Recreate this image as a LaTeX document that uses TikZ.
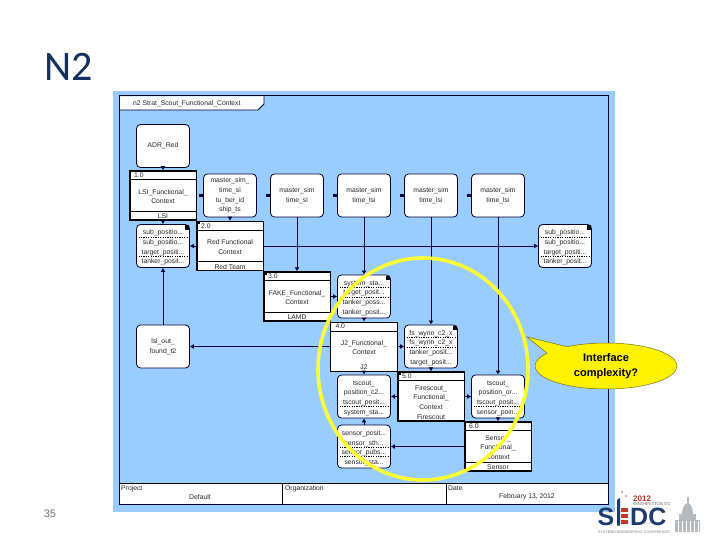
\documentclass[tikz,border=0pt]{standalone}
\usepackage{fontspec}
\setmainfont{Liberation Sans}
\newfontfamily\calib{Carlito}
\usetikzlibrary{arrows.meta,calc}
\definecolor{panel}{HTML}{99CCFF}
\definecolor{ink}{HTML}{000033}
\definecolor{titleblue}{HTML}{14305E}
\definecolor{ring}{HTML}{FFFF33}
\definecolor{logoblue}{HTML}{1F3A6E}
\definecolor{logored}{HTML}{C0392B}
\definecolor{domegray}{HTML}{B4BABE}
\newcommand{\rt}{\rule{0pt}{8pt}}
\tikzset{
  lab/.style={font=\fontsize{6.8}{9.6}\selectfont,align=center,inner sep=0pt,text=black!85},
  rbox/.style={lab,draw=ink,fill=white,rounded corners=4pt,line width=.8pt,minimum width=53pt,minimum height=43pt},
  fbox/.style={lab,draw=black,fill=white,line width=.8pt,minimum width=66.5pt,minimum height=49pt},
  thick box/.style={fbox,line width=1.5pt},
  small/.style={lab,anchor=west},
  conn/.style={draw=ink,line width=.8pt,-{Latex[length=4pt,width=5pt]}},
  rowsep/.style={draw=black,line width=.6pt,dash pattern=on 1.2pt off 1.2pt},
  plainline/.style={draw=black,line width=.8pt},
  corner/.style={fill=black,inner sep=0pt,minimum size=4.5pt},
  stub/.style={fill=ink,inner sep=0pt,minimum size=3.5pt},
}
% name, style, x, y, number, body, footer, footer-line yes(1)/no(0)
\newcommand{\funcnode}[8]{%
  \node[#2] (#1) at (#3,#4) {};
  \node[lab,anchor=west] (#1n) at ([xshift=5pt,yshift=-5pt]#1.north west) {#5};
  \node[lab] (#1b) at ([yshift=-1pt]#1.center) {#6};
  \node[lab] (#1f) at ([yshift=4.5pt]#1.south) {#7};
  \draw[plainline] ([yshift=-9.5pt]#1.north west) -- ([yshift=-9.5pt]#1.north east);
  \ifnum#8=1 \draw[plainline] ([yshift=9.5pt]#1.south west) -- ([yshift=9.5pt]#1.south east);\fi
}
\newcommand{\rowlines}[3]{%
  \draw[rowsep] ([yshift=#2pt]#1.west) -- ([yshift=#2pt]#1.east);
  \draw[rowsep] ([yshift=#3pt]#1.west) -- ([yshift=#3pt]#1.east);
}
\begin{document}
\begin{tikzpicture}[x=1pt,y=-1pt]
\useasboundingbox (0,0) rectangle (720,540);
\fill[white] (0,0) rectangle (720,540);
\node[font=\calib\fontsize{42}{42}\selectfont,text=titleblue,inner sep=0pt] (title) at (69,67) {N2};
\node[font=\fontsize{11}{12}\selectfont,text=black!55,inner sep=0pt] (page) at (50,514) {35};

% panel and frame
\fill[panel] (113,91) rectangle (615,512);
\fill[white] (119.5,96.5) -- (264,96.5) -- (264,104) -- (258,110) -- (119.5,110) -- cycle;
\draw[draw=ink,line width=.8pt] (264,96.5) -- (264,104) -- (258,110) -- (119.5,110);
\node[lab,anchor=west] (head) at (133,103.5) {n2 Strat\_Scout\_Functional\_Context};

% title block
\fill[white] (119.5,483) rectangle (607.5,503.5);
\draw[plainline] (119,483) -- (608,483) (282,483) -- (282,504) (446,483) -- (446,504);
\draw[draw=ink,line width=1pt] (119,96) rectangle (608,504);
\node[small] (pl) at (121,488.5) {Project};
\node[lab] (pv) at (200,497) {Default};
\node[small] (ol) at (285,488.5) {Organization};
\node[small] (dl) at (448,488.5) {Date};
\node[lab] (dv) at (527,497) {February 13, 2012};

% rounded data boxes
\node[rbox] (adr) at (163,146) {ADR\_Red};
\node[rbox] (m1) at (230,195.5) {master\_sim\_\\time\_si\\tu\_ber\_id\\ship\_ts};
\node[rbox] (m2) at (297,195.5) {master\_sim\\time\_si};
\node[rbox] (m3) at (364,195.5) {master\_sim\\time\_lsi};
\node[rbox] (m4) at (431,195.5) {master\_sim\\time\_lsi};
\node[rbox] (m5) at (498,195.5) {master\_sim\\time\_lsi};
\node[rbox] (subl) at (163,246) {\rt sub\_positio...\\sub\_positio...\\target\_positi...\\tanker\_posit...};
\node[rbox] (subr) at (565,246) {\rt sub\_positio...\\sub\_positio...\\target\_positi...\\tanker\_posit...};
\node[rbox] (sys) at (364,296.5) {\rt system\_sta...\\target\_posit...\\tanker\_poss...\\tanker\_posit...};
\node[rbox] (lsi) at (163,346.5) {lsi\_out\_\\found\_t2};
\node[rbox] (fsw) at (431,346.5) {\rt fs\_wynn\_c2\_x\\fs\_wynn\_c2\_x\\tanker\_posit...\\target\_posit...};
\node[rbox] (tsl) at (364,396.5) {\rt tscout\_\\position\_c2...\\tscout\_posit...\\system\_sta...};
\node[rbox] (tsr) at (498,396.5) {\rt tscout\_\\position\_or...\\tscout\_posit...\\sensor\_poin...};
\node[rbox] (sen) at (364,446.5) {\rt sensor\_posit...\\sensor\_sth...\\sensor\_pubs...\\sensor\_sta...};

\rowlines{subl}{9}{-10}
\rowlines{subr}{9}{-10}
\rowlines{sys}{9}{-0.5}
\rowlines{fsw}{9}{-0.5}
\rowlines{sen}{-0.5}{-10}
\draw[rowsep] ([yshift=-10pt]tsl.west) -- ([yshift=-10pt]tsl.east);
\draw[rowsep] ([yshift=-10pt]tsr.west) -- ([yshift=-10pt]tsr.east);

\node[corner] (c1) at (187,227.5) {};
\node[corner] (c2) at (589,227.5) {};
\node[corner] (c3) at (388,278) {};
\node[corner] (c4) at (455,328) {};

% function boxes
\funcnode{f1}{thick box}{163}{195.5}{1.0}{LSI\_Functional\_\\Context}{LSI}{1}
\funcnode{f2}{thick box}{230}{246}{2.0}{Red Functional\\Context}{Red Team}{1}
\funcnode{f3}{thick box}{297}{296.5}{3.0}{FAKE\_Functional\_\\Context}{LAMD}{1}
\funcnode{f4}{fbox}{364}{346.5}{4.0}{J2\_Functional\_\\Context}{J2}{0}
\funcnode{f5}{thick box}{431}{396.5}{5.0}{Firescout\_\\Functional\_\\Context}{Firescout}{0}
\funcnode{f6}{thick box}{498}{446.5}{6.0}{Sensor\_\\Functional\_\\Context}{Sensor}{1}
\node[corner,minimum size=3pt] (k2) at (198.5,223) {};
\node[corner,minimum size=3pt] (k3) at (265,273.5) {};
\node[corner,minimum size=3pt] (k5) at (399,373.5) {};

% connectors
\draw[conn] (adr) -- (f1);
\draw[conn] (f1) -- (subl);
\draw[conn] (m1) -- (f2);
\draw[conn] (m2) -- (f3);
\draw[conn] (m3) -- (sys);
\draw[conn] (m4) -- (fsw);
\draw[conn] (m5) -- (tsr);
\draw[conn] (f2) -- (subl);
\draw[conn] (f2) -- (subr);
\draw[conn] (lsi) -- (subl);
\draw[conn] (f4) -- (lsi);
\draw[conn] (f3) -- (sys);
\draw[conn] (sys) -- (f4);
\draw[conn] (f4) -- (fsw);
\draw[conn] (fsw) -- (f5);
\draw[conn] (f4) -- (tsl);
\draw[conn] (f5) -- (tsl);
\draw[conn] (f5) -- (tsr);
\draw[conn] (sen) -- (tsl);
\draw[conn] (tsr) -- (f6);
\draw[conn] (f6) -- (sen);

% stubs at left of master boxes
\foreach \n/\x in {m1/201,m2/268,m3/335,m4/402,m5/469}{
  \node[stub] (s\n) at (\x,195.5) {};
  \draw[draw=ink,line width=.8pt] (s\n) -- (\n);
}

% highlight ring
\draw[draw=ring,line width=3.6pt] (423,369) ellipse [x radius=105,y radius=111];

% callout
\fill[fill=yellow,draw=olive!80!black,line width=.5pt] (527,337) -- ($(606,366)+(237:71 and 23)$) arc[start angle=237,end angle=574,x radius=71,y radius=23] -- cycle;
\node[font=\bfseries\fontsize{11}{15}\selectfont,align=center,inner sep=0pt,text=black] (call) at (606,366) {Interface\\complexity?};

% logo
\node[font=\bfseries\fontsize{25}{26}\selectfont,text=logoblue,inner sep=0pt,anchor=base west] (ls) at (597.5,525.5) {S};
\fill[logoblue] (617,500) -- (620,498) -- (620,525.5) -- (617,525.5) -- cycle;
\foreach \yy in {508,514,520}{\fill[logored] (620.5,\yy) rectangle (628,\yy+3.5);}
\node[font=\bfseries\fontsize{25}{26}\selectfont,text=logoblue,inner sep=0pt,anchor=base west] (ldc) at (630,525.5) {DC};
\fill[logored!70] (622,492) circle (1);
\fill[logored!70] (626,496) circle (1);
\node[font=\bfseries\fontsize{8}{8}\selectfont,text=logored,inner sep=0pt,anchor=west] (y12) at (633,498.5) {2012};
\node[font=\fontsize{4.4}{5}\selectfont,text=black!55,inner sep=0pt,anchor=west] (wdc) at (633,504) {WASHINGTON DC};
\node[font=\fontsize{3.7}{4}\selectfont,text=black!50,inner sep=0pt,anchor=west] (sec) at (598,532) {SYSTEMS ENGINEERING CONFERENCE};
% capitol
\fill[domegray] (687,497) rectangle (688.5,504);
\fill[domegray] (682,514) .. controls (682,507) and (685.5,503) .. (687.7,503) .. controls (690,503) and (693,507) .. (693,514) -- cycle;
\fill[domegray] (679,514) rectangle (696,520);
\fill[domegray] (675,520) -- (700,520) -- (700,532) -- (675,532) -- cycle;
\foreach \xx in {678,682,686,690,694,698}{\draw[white,line width=.4pt] (\xx,521) -- (\xx,532);}
\end{tikzpicture}
\end{document}
